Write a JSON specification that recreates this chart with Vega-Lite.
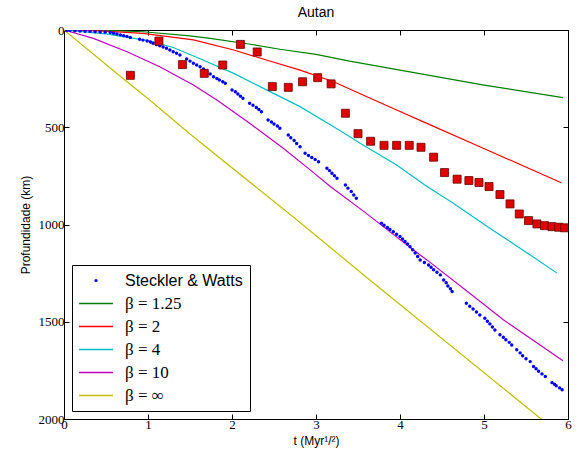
{
  "$schema": "https://vega.github.io/schema/vega-lite/v6.json",
  "autosize": {"type": "none"},
  "width": 504,
  "height": 389,
  "padding": {"left": 64, "top": 30, "right": 8, "bottom": 38},
  "background": "white",
  "config": {
    "view": {"stroke": "black", "strokeWidth": 1},
    "axis": {"grid": false, "domainColor": "black", "tickColor": "black"}
  },
  "title": {"text": "Autan", "font": "Liberation Sans", "fontSize": 14, "fontWeight": "normal", "anchor": "middle", "frame": "group", "baseline": "bottom", "offset": 13, "dy": 23, "color": "black"},
  "datasets": {
    "models": [
      {"series": "β = 1.25", "t": 0, "d": 0},
      {"series": "β = 1.25", "t": 0.5, "d": 2},
      {"series": "β = 1.25", "t": 0.94, "d": 9},
      {"series": "β = 1.25", "t": 1.5, "d": 30},
      {"series": "β = 1.25", "t": 1.74, "d": 43},
      {"series": "β = 1.25", "t": 2.2, "d": 72},
      {"series": "β = 1.25", "t": 2.57, "d": 99},
      {"series": "β = 1.25", "t": 3.0, "d": 125},
      {"series": "β = 1.25", "t": 3.4, "d": 160},
      {"series": "β = 1.25", "t": 4.0, "d": 206},
      {"series": "β = 1.25", "t": 5.0, "d": 283},
      {"series": "β = 1.25", "t": 5.94, "d": 348},
      {"series": "β = 2", "t": 0, "d": 0},
      {"series": "β = 2", "t": 0.43, "d": 5},
      {"series": "β = 2", "t": 0.94, "d": 17},
      {"series": "β = 2", "t": 1.54, "d": 51},
      {"series": "β = 2", "t": 2.02, "d": 103},
      {"series": "β = 2", "t": 2.41, "d": 154},
      {"series": "β = 2", "t": 2.81, "d": 206},
      {"series": "β = 2", "t": 3.21, "d": 266},
      {"series": "β = 2", "t": 3.4, "d": 303},
      {"series": "β = 2", "t": 3.96, "d": 411},
      {"series": "β = 2", "t": 4.36, "d": 488},
      {"series": "β = 2", "t": 4.95, "d": 600},
      {"series": "β = 2", "t": 5.92, "d": 785},
      {"series": "β = 4", "t": 0, "d": 0},
      {"series": "β = 4", "t": 0.5, "d": 20},
      {"series": "β = 4", "t": 1.0, "d": 55},
      {"series": "β = 4", "t": 1.3, "d": 90},
      {"series": "β = 4", "t": 1.62, "d": 148},
      {"series": "β = 4", "t": 2.02, "d": 223},
      {"series": "β = 4", "t": 2.41, "d": 308},
      {"series": "β = 4", "t": 2.81, "d": 394},
      {"series": "β = 4", "t": 3.21, "d": 497},
      {"series": "β = 4", "t": 3.56, "d": 591},
      {"series": "β = 4", "t": 3.96, "d": 694},
      {"series": "β = 4", "t": 4.3, "d": 798},
      {"series": "β = 4", "t": 4.63, "d": 890},
      {"series": "β = 4", "t": 5.03, "d": 1008},
      {"series": "β = 4", "t": 5.43, "d": 1122},
      {"series": "β = 4", "t": 5.87, "d": 1250},
      {"series": "β = 10", "t": 0, "d": 0},
      {"series": "β = 10", "t": 0.35, "d": 43},
      {"series": "β = 10", "t": 0.75, "d": 112},
      {"series": "β = 10", "t": 1.14, "d": 189},
      {"series": "β = 10", "t": 1.54, "d": 283},
      {"series": "β = 10", "t": 1.82, "d": 360},
      {"series": "β = 10", "t": 2.21, "d": 479},
      {"series": "β = 10", "t": 2.61, "d": 608},
      {"series": "β = 10", "t": 2.93, "d": 719},
      {"series": "β = 10", "t": 3.17, "d": 805},
      {"series": "β = 10", "t": 3.56, "d": 930},
      {"series": "β = 10", "t": 4.16, "d": 1131},
      {"series": "β = 10", "t": 4.32, "d": 1182},
      {"series": "β = 10", "t": 4.83, "d": 1353},
      {"series": "β = 10", "t": 5.23, "d": 1490},
      {"series": "β = 10", "t": 5.94, "d": 1700},
      {"series": "β = ∞", "t": 0, "d": 0},
      {"series": "β = ∞", "t": 0.75, "d": 266},
      {"series": "β = ∞", "t": 1.02, "d": 360},
      {"series": "β = ∞", "t": 1.5, "d": 535},
      {"series": "β = ∞", "t": 2.77, "d": 976},
      {"series": "β = ∞", "t": 3.64, "d": 1285},
      {"series": "β = ∞", "t": 5.68, "d": 2000}
    ],
    "sw": [
      {"series": "Steckler & Watts", "t": 0.03, "d": 2},
      {"series": "Steckler & Watts", "t": 0.07, "d": 3},
      {"series": "Steckler & Watts", "t": 0.13, "d": 4},
      {"series": "Steckler & Watts", "t": 0.19, "d": 5},
      {"series": "Steckler & Watts", "t": 0.25, "d": 6},
      {"series": "Steckler & Watts", "t": 0.31, "d": 8},
      {"series": "Steckler & Watts", "t": 0.37, "d": 9},
      {"series": "Steckler & Watts", "t": 0.43, "d": 10},
      {"series": "Steckler & Watts", "t": 0.49, "d": 11},
      {"series": "Steckler & Watts", "t": 0.55, "d": 13},
      {"series": "Steckler & Watts", "t": 0.59, "d": 17},
      {"series": "Steckler & Watts", "t": 0.63, "d": 21},
      {"series": "Steckler & Watts", "t": 0.67, "d": 25},
      {"series": "Steckler & Watts", "t": 0.71, "d": 29},
      {"series": "Steckler & Watts", "t": 0.75, "d": 33},
      {"series": "Steckler & Watts", "t": 0.79, "d": 38},
      {"series": "Steckler & Watts", "t": 0.9, "d": 48},
      {"series": "Steckler & Watts", "t": 0.94, "d": 52},
      {"series": "Steckler & Watts", "t": 0.99, "d": 57},
      {"series": "Steckler & Watts", "t": 1.03, "d": 62},
      {"series": "Steckler & Watts", "t": 1.06, "d": 68},
      {"series": "Steckler & Watts", "t": 1.1, "d": 74},
      {"series": "Steckler & Watts", "t": 1.14, "d": 81},
      {"series": "Steckler & Watts", "t": 1.18, "d": 87},
      {"series": "Steckler & Watts", "t": 1.22, "d": 94},
      {"series": "Steckler & Watts", "t": 1.26, "d": 103},
      {"series": "Steckler & Watts", "t": 1.3, "d": 112},
      {"series": "Steckler & Watts", "t": 1.34, "d": 120},
      {"series": "Steckler & Watts", "t": 1.38, "d": 128},
      {"series": "Steckler & Watts", "t": 1.46, "d": 149},
      {"series": "Steckler & Watts", "t": 1.5, "d": 160},
      {"series": "Steckler & Watts", "t": 1.54, "d": 171},
      {"series": "Steckler & Watts", "t": 1.58, "d": 180},
      {"series": "Steckler & Watts", "t": 1.62, "d": 189},
      {"series": "Steckler & Watts", "t": 1.66, "d": 200},
      {"series": "Steckler & Watts", "t": 1.7, "d": 211},
      {"series": "Steckler & Watts", "t": 1.74, "d": 226},
      {"series": "Steckler & Watts", "t": 1.78, "d": 240},
      {"series": "Steckler & Watts", "t": 1.82, "d": 249},
      {"series": "Steckler & Watts", "t": 1.85, "d": 257},
      {"series": "Steckler & Watts", "t": 1.89, "d": 266},
      {"series": "Steckler & Watts", "t": 1.92, "d": 274},
      {"series": "Steckler & Watts", "t": 2.0, "d": 308},
      {"series": "Steckler & Watts", "t": 2.04, "d": 318},
      {"series": "Steckler & Watts", "t": 2.07, "d": 329},
      {"series": "Steckler & Watts", "t": 2.1, "d": 340},
      {"series": "Steckler & Watts", "t": 2.13, "d": 351},
      {"series": "Steckler & Watts", "t": 2.21, "d": 377},
      {"series": "Steckler & Watts", "t": 2.25, "d": 387},
      {"series": "Steckler & Watts", "t": 2.29, "d": 398},
      {"series": "Steckler & Watts", "t": 2.32, "d": 409},
      {"series": "Steckler & Watts", "t": 2.35, "d": 420},
      {"series": "Steckler & Watts", "t": 2.43, "d": 463},
      {"series": "Steckler & Watts", "t": 2.47, "d": 473},
      {"series": "Steckler & Watts", "t": 2.5, "d": 483},
      {"series": "Steckler & Watts", "t": 2.54, "d": 494},
      {"series": "Steckler & Watts", "t": 2.57, "d": 505},
      {"series": "Steckler & Watts", "t": 2.67, "d": 540},
      {"series": "Steckler & Watts", "t": 2.7, "d": 554},
      {"series": "Steckler & Watts", "t": 2.74, "d": 568},
      {"series": "Steckler & Watts", "t": 2.77, "d": 584},
      {"series": "Steckler & Watts", "t": 2.81, "d": 600},
      {"series": "Steckler & Watts", "t": 2.87, "d": 634},
      {"series": "Steckler & Watts", "t": 2.91, "d": 645},
      {"series": "Steckler & Watts", "t": 2.95, "d": 655},
      {"series": "Steckler & Watts", "t": 2.99, "d": 666},
      {"series": "Steckler & Watts", "t": 3.03, "d": 677},
      {"series": "Steckler & Watts", "t": 3.13, "d": 711},
      {"series": "Steckler & Watts", "t": 3.16, "d": 723},
      {"series": "Steckler & Watts", "t": 3.19, "d": 736},
      {"series": "Steckler & Watts", "t": 3.22, "d": 749},
      {"series": "Steckler & Watts", "t": 3.25, "d": 762},
      {"series": "Steckler & Watts", "t": 3.35, "d": 797},
      {"series": "Steckler & Watts", "t": 3.38, "d": 813},
      {"series": "Steckler & Watts", "t": 3.42, "d": 830},
      {"series": "Steckler & Watts", "t": 3.45, "d": 848},
      {"series": "Steckler & Watts", "t": 3.48, "d": 865},
      {"series": "Steckler & Watts", "t": 3.78, "d": 993},
      {"series": "Steckler & Watts", "t": 3.81, "d": 1004},
      {"series": "Steckler & Watts", "t": 3.85, "d": 1015},
      {"series": "Steckler & Watts", "t": 3.88, "d": 1026},
      {"series": "Steckler & Watts", "t": 3.92, "d": 1037},
      {"series": "Steckler & Watts", "t": 3.96, "d": 1050},
      {"series": "Steckler & Watts", "t": 4.0, "d": 1062},
      {"series": "Steckler & Watts", "t": 4.03, "d": 1075},
      {"series": "Steckler & Watts", "t": 4.06, "d": 1087},
      {"series": "Steckler & Watts", "t": 4.09, "d": 1100},
      {"series": "Steckler & Watts", "t": 4.12, "d": 1114},
      {"series": "Steckler & Watts", "t": 4.15, "d": 1130},
      {"series": "Steckler & Watts", "t": 4.18, "d": 1146},
      {"series": "Steckler & Watts", "t": 4.21, "d": 1164},
      {"series": "Steckler & Watts", "t": 4.24, "d": 1182},
      {"series": "Steckler & Watts", "t": 4.29, "d": 1195},
      {"series": "Steckler & Watts", "t": 4.34, "d": 1208},
      {"series": "Steckler & Watts", "t": 4.37, "d": 1220},
      {"series": "Steckler & Watts", "t": 4.4, "d": 1233},
      {"series": "Steckler & Watts", "t": 4.44, "d": 1246},
      {"series": "Steckler & Watts", "t": 4.48, "d": 1259},
      {"series": "Steckler & Watts", "t": 4.52, "d": 1285},
      {"series": "Steckler & Watts", "t": 4.55, "d": 1300},
      {"series": "Steckler & Watts", "t": 4.57, "d": 1316},
      {"series": "Steckler & Watts", "t": 4.6, "d": 1330},
      {"series": "Steckler & Watts", "t": 4.62, "d": 1345},
      {"series": "Steckler & Watts", "t": 4.79, "d": 1405},
      {"series": "Steckler & Watts", "t": 4.83, "d": 1420},
      {"series": "Steckler & Watts", "t": 4.87, "d": 1434},
      {"series": "Steckler & Watts", "t": 4.91, "d": 1450},
      {"series": "Steckler & Watts", "t": 4.95, "d": 1465},
      {"series": "Steckler & Watts", "t": 5.01, "d": 1482},
      {"series": "Steckler & Watts", "t": 5.04, "d": 1497},
      {"series": "Steckler & Watts", "t": 5.07, "d": 1511},
      {"series": "Steckler & Watts", "t": 5.1, "d": 1527},
      {"series": "Steckler & Watts", "t": 5.13, "d": 1542},
      {"series": "Steckler & Watts", "t": 5.19, "d": 1567},
      {"series": "Steckler & Watts", "t": 5.23, "d": 1580},
      {"series": "Steckler & Watts", "t": 5.26, "d": 1593},
      {"series": "Steckler & Watts", "t": 5.3, "d": 1606},
      {"series": "Steckler & Watts", "t": 5.33, "d": 1619},
      {"series": "Steckler & Watts", "t": 5.39, "d": 1644},
      {"series": "Steckler & Watts", "t": 5.43, "d": 1660},
      {"series": "Steckler & Watts", "t": 5.46, "d": 1675},
      {"series": "Steckler & Watts", "t": 5.5, "d": 1690},
      {"series": "Steckler & Watts", "t": 5.55, "d": 1705},
      {"series": "Steckler & Watts", "t": 5.59, "d": 1730},
      {"series": "Steckler & Watts", "t": 5.62, "d": 1742},
      {"series": "Steckler & Watts", "t": 5.65, "d": 1755},
      {"series": "Steckler & Watts", "t": 5.69, "d": 1768},
      {"series": "Steckler & Watts", "t": 5.73, "d": 1782},
      {"series": "Steckler & Watts", "t": 5.81, "d": 1813},
      {"series": "Steckler & Watts", "t": 5.84, "d": 1821},
      {"series": "Steckler & Watts", "t": 5.86, "d": 1829},
      {"series": "Steckler & Watts", "t": 5.9, "d": 1840},
      {"series": "Steckler & Watts", "t": 5.93, "d": 1850}
    ],
    "squares": [
      {"t": 0.79, "d": 233},
      {"t": 1.13, "d": 57},
      {"t": 1.41, "d": 178},
      {"t": 1.67, "d": 223},
      {"t": 1.89, "d": 180},
      {"t": 2.1, "d": 74},
      {"t": 2.3, "d": 113},
      {"t": 2.48, "d": 291},
      {"t": 2.67, "d": 295},
      {"t": 2.84, "d": 266},
      {"t": 3.02, "d": 245},
      {"t": 3.18, "d": 277},
      {"t": 3.35, "d": 428},
      {"t": 3.5, "d": 533},
      {"t": 3.65, "d": 572},
      {"t": 3.81, "d": 593},
      {"t": 3.96, "d": 593},
      {"t": 4.11, "d": 593},
      {"t": 4.25, "d": 603},
      {"t": 4.4, "d": 654},
      {"t": 4.53, "d": 733},
      {"t": 4.68, "d": 767},
      {"t": 4.82, "d": 774},
      {"t": 4.94, "d": 784},
      {"t": 5.06, "d": 805},
      {"t": 5.19, "d": 846},
      {"t": 5.31, "d": 894},
      {"t": 5.42, "d": 946},
      {"t": 5.53, "d": 980},
      {"t": 5.63, "d": 997},
      {"t": 5.72, "d": 1006},
      {"t": 5.81, "d": 1011},
      {"t": 5.89, "d": 1014},
      {"t": 5.96, "d": 1017}
    ]
  },
  "resolve": {"axis": {"x": "independent", "y": "independent"}},
  "layer": [
    {
      "data": {"name": "models"},
      "mark": {"type": "line", "strokeWidth": 1.2, "clip": true},
      "encoding": {
        "x": {"field": "t", "type": "quantitative",
          "scale": {"domain": [0, 6], "nice": false, "zero": false},
          "axis": {"values": [0, 1, 2, 3, 4, 5, 6], "format": "d", "title": "t (Myr¹/²)", "titleFont": "Liberation Sans", "titleFontSize": 12, "titleFontWeight": "normal", "titleColor": "black", "titlePadding": 4,
            "labelFont": "Liberation Serif", "labelFontSize": 13, "labelColor": "black", "labelPadding": 4, "tickSize": -5, "domainColor": "black", "labelFlush": false}},
        "y": {"field": "d", "type": "quantitative",
          "scale": {"domain": [0, 2000], "nice": false, "zero": false, "reverse": true},
          "axis": {"values": [0, 500, 1000, 1500, 2000], "format": "d", "title": "Profundidade (km)", "titleFont": "Liberation Sans", "titleFontSize": 12, "titleFontWeight": "normal", "titleColor": "black", "titlePadding": 6,
            "labelFont": "Liberation Serif", "labelFontSize": 13, "labelColor": "black", "labelPadding": 5, "tickSize": -5, "domainColor": "black", "labelFlush": false}},
        "color": {"field": "series", "type": "nominal",
          "scale": {"domain": ["Steckler & Watts", "β = 1.25", "β = 2", "β = 4", "β = 10", "β = ∞"],
                    "range": ["#0000ff", "#008000", "#ff0000", "#00bfbf", "#bf00bf", "#bfbf00"]},
          "sort": null,
          "legend": {
            "title": null,
            "orient": "bottom-left",
            "offset": 8,
            "padding": 7,
            "fillColor": "white",
            "strokeColor": "black",
            "cornerRadius": 0,
            "symbolType": "stroke",
            "symbolSize": 1150,
            "symbolStrokeWidth": 1.3,
            "labelFontSize": 17,
            "labelFont": "Liberation Serif",
            "labelColor": "black",
            "labelOffset": 14,
            "rowPadding": 5,
            "labelLimit": 300,
            "encode": {
              "symbols": {"update": {
                "x": {"value": 17},
                "shape": {"signal": "datum.value === 'Steckler & Watts' ? 'circle' : 'stroke'"},
                "size": {"signal": "datum.value === 'Steckler & Watts' ? 10 : 1150"},
                "fill": {"signal": "datum.value === 'Steckler & Watts' ? '#0000ff' : 'transparent'"},
                "stroke": {"scale": "color", "field": "value"},
                "strokeWidth": {"signal": "datum.value === 'Steckler & Watts' ? 0 : 1.3"},
                "opacity": {"value": 1}
              }},
              "labels": {"update": {
                "x": {"value": 46},
                "font": {"signal": "datum.value === 'Steckler & Watts' ? 'Liberation Sans' : 'Liberation Serif'"},
                "fontSize": {"signal": "datum.value === 'Steckler & Watts' ? 16 : 17"}
              }}
            }
          }
        }
      }
    },
    {
      "data": {"name": "sw"},
      "mark": {"type": "point", "filled": true, "size": 12, "opacity": 1, "clip": true},
      "encoding": {
        "x": {"field": "t", "type": "quantitative", "axis": null},
        "y": {"field": "d", "type": "quantitative", "axis": null},
        "color": {"field": "series", "type": "nominal"}
      }
    },
    {
      "data": {"name": "squares"},
      "mark": {"type": "square", "filled": true, "size": 64, "color": "#e00000", "stroke": "#6a0000", "strokeWidth": 0.8, "opacity": 1, "clip": true},
      "encoding": {
        "x": {"field": "t", "type": "quantitative",
          "axis": {"orient": "top", "values": [0, 1, 2, 3, 4, 5, 6], "labels": false, "title": null, "tickSize": -5, "domain": false}},
        "y": {"field": "d", "type": "quantitative",
          "axis": {"orient": "right", "values": [0, 500, 1000, 1500, 2000], "labels": false, "title": null, "tickSize": -5, "domain": false}}
      }
    }
  ]
}
